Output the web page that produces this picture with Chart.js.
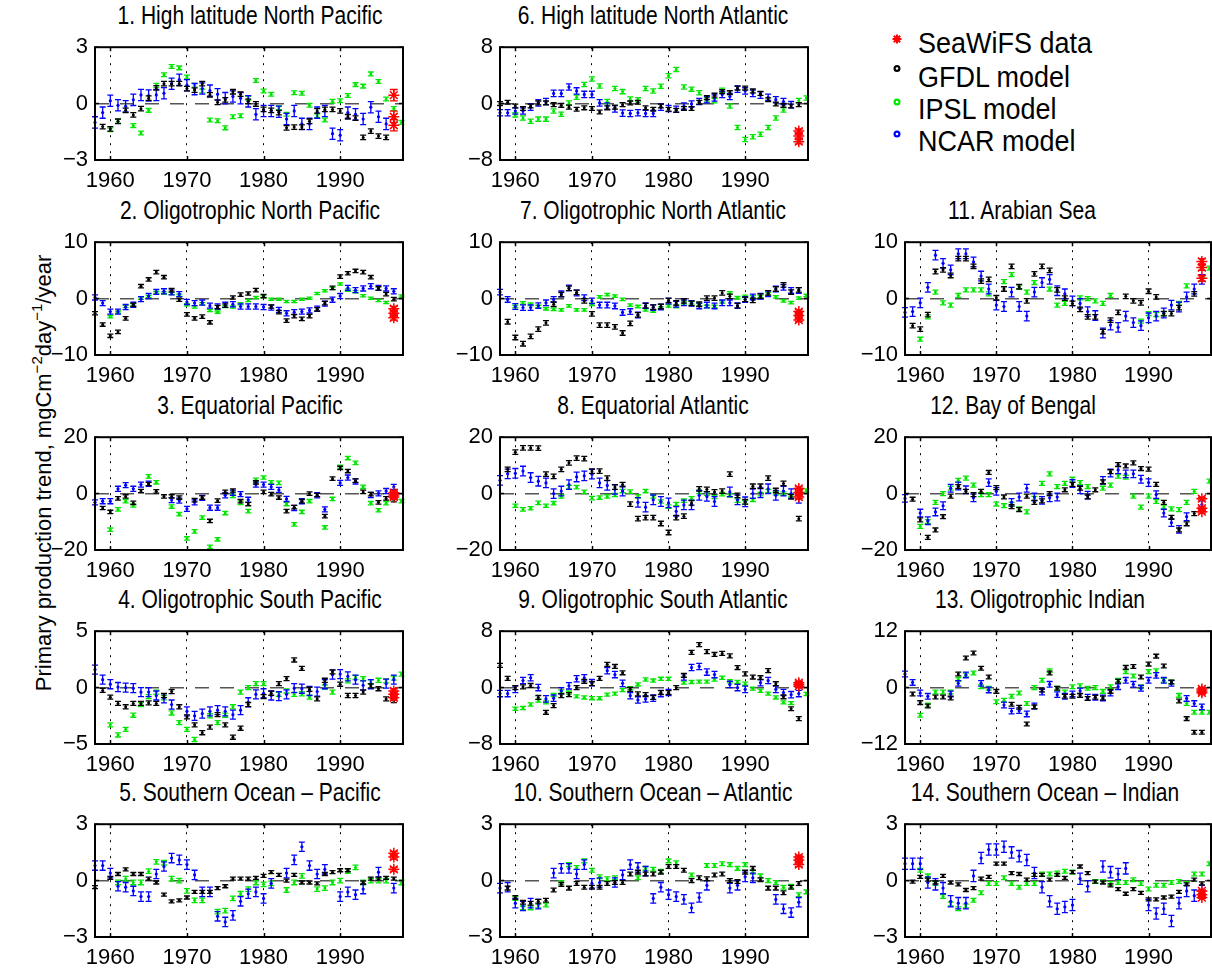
<!DOCTYPE html>
<html><head><meta charset="utf-8">
<script src="https://cdn.jsdelivr.net/npm/chart.js@4.4.1/dist/chart.umd.min.js"></script>
<style>
html,body{margin:0;padding:0;background:#fff;}
body{width:1212px;height:970px;overflow:hidden;position:relative;font-family:"Liberation Sans",Arial,sans-serif;}
canvas{position:absolute;}
#ov{position:absolute;left:0;top:0;pointer-events:none;}
</style></head>
<body>
<svg id="ov" width="1212" height="970" xmlns="http://www.w3.org/2000/svg" font-family="Liberation Sans, Arial, sans-serif" fill="#000"></svg>
<script>
// ---------- DATA ----------
const years = [1958,1959,1960,1961,1962,1963,1964,1965,1966,1967,
               1968,1969,1970,1971,1972,1973,1974,1975,1976,1977,
               1978,1979,1980,1981,1982,1983,1984,1985,1986,1987,
               1988,1989,1990,1991,1992,1993,1994,1995,1996,1997,1998];
const xTicks = [1960,1970,1980,1990];
const seaYear = 1997;
const titles = ["1. High latitude North Pacific","2. Oligotrophic North Pacific","3. Equatorial Pacific",
  "4. Oligotrophic South Pacific","5. Southern Ocean \u2013 Pacific","6. High latitude North Atlantic",
  "7. Oligotrophic North Atlantic","8. Equatorial Atlantic","9. Oligotrophic South Atlantic",
  "10. Southern Ocean \u2013 Atlantic","11. Arabian Sea","12. Bay of Bengal","13. Oligotrophic Indian",
  "14. Southern Ocean \u2013 Indian"];
const yLimits = [3,10,20,5,3,8,10,20,8,3,10,20,12,3];
const legendLabels = ["SeaWiFS data","GFDL model","IPSL model","NCAR model"];

const gfdl1=[null,-1.22,-1.34,-0.94,-0.36,-0.6,-0.27,0.29,0.84,1.06,1.06,1.06,0.8,0.72,1.06,0.46,0.07,0.2,0.63,0.5,0.12,-0.02,-0.31,-0.36,-0.48,-1.29,-1.25,-1.25,-0.94,-0.39,-0.31,-0.31,-0.39,-0.7,-0.77,-1.8,-1.46,-1.73,-1.8,null,null];
const ipsl1=[null,null,-1.39,-0.94,null,-1.17,-1.56,-0.36,0.98,1.53,1.97,1.9,1.41,0.98,0.67,-0.87,-0.91,-1.29,-0.7,-0.65,0.29,1.23,0.67,0.5,-0.22,-0.57,0.58,0.55,-0.09,-0.65,-0.87,0.12,0.15,0.43,1.01,0.93,1.58,1.18,0.24,-0.26,-1.0];
const ncar1=[-1.0,-0.48,0.15,-0.09,-0.14,0.2,0.46,0.43,0.46,0.55,1.06,1.27,0.98,0.77,0.8,0.69,0.5,0.29,0.38,0.29,0.12,-0.57,-0.39,-0.39,-0.43,-0.82,-0.39,-1.08,-1.08,-0.48,-0.39,-1.6,-1.68,-0.48,-0.57,-0.82,-0.19,-0.7,-1.08,null,null];
const sea1=[0.45,-0.7,-1.15];

const gfdl2=[-2.6,-4.6,-6.6,-5.9,-3.5,-1.1,2.2,3.4,4.7,3.8,1.5,-0.2,-2.8,-3.5,-3.2,-4.2,-1.5,-1.25,0.2,0.7,0.9,1.5,0.45,-1.4,-2.4,-3.9,-3.1,-3.6,-3.1,-1.9,-0.8,1.9,3.9,4.5,4.9,4.7,3.8,1.8,0.8,-0.1,null];
const ipsl2=[null,null,-3.2,-2.4,-1.4,-1.1,0.05,0.35,1.1,1.0,0.9,0.6,-1.1,-1.5,-0.9,-2.1,-2.4,-1.4,-1.5,-0.9,-0.35,0.2,0.35,-0.1,-0.1,-0.5,-0.5,-0.1,0.05,0.9,1.4,1.8,2.6,1.5,1.2,0.5,0.05,-0.35,-0.7,null,0.45];
const ncar2=[0.2,-0.8,-2.3,-2.3,-1.5,-1.1,-0.1,0.45,1.2,1.3,1.1,0.8,-0.6,-0.8,-0.7,-1.25,-1.4,-1.1,-1.0,-1.4,-1.4,-1.4,-1.5,-1.6,-2.0,-2.6,-2.4,-2.3,-2.1,-1.8,-0.9,-0.2,0.45,1.9,1.5,1.8,2.2,1.9,1.8,1.3,null];
const sea2=[-1.8,-2.6,-3.4];

const gfdl3=[null,-5.1,-6.5,-1.7,-1.0,-3.3,0.9,3.4,0.8,-1.0,-1.0,-1.4,null,-2.3,-1.4,-9.7,-2.5,0.6,1.1,-2.7,-3.7,4.0,0.6,-0.2,-1.4,-6.2,-4.8,-2.7,0,-0.5,-8.0,5.3,9.1,8.0,4.6,0.6,-0.2,-3.1,-1.7,-2.3,null];
const ipsl3=[null,null,-12.8,-5.6,-2.7,-4.2,null,6.1,4.0,null,-4.6,-7.3,-15.9,-13.4,-8.5,-18.9,-16.2,-6.9,-0.8,-3.3,-6.2,4.9,5.7,4.0,3.8,-3.7,-10.9,-6.5,-2.7,null,-12.0,-1.9,9.5,12.6,10.9,2.4,-3.4,-5.9,-3.4,null,-2.7];
const ncar3=[-3.1,-2.7,-2.7,1.7,3.0,1.7,3.2,3.5,null,null,-2.3,-2.5,-5.4,-3.1,-1.5,-5.0,-5.0,-0.6,0.3,-0.2,-2.2,3.2,3.2,2.4,1.3,-1.9,-5.1,-2.7,null,-0.6,-5.6,null,3.8,5.7,4.3,null,-0.5,0.1,0.9,2.4,null];
const sea3=[0.3,-0.5,-1.2];

const gfdl4=[null,-0.25,-0.85,-1.4,-1.7,-1.4,-1.4,-1.35,-1.4,-0.7,-0.35,-1.7,-2.6,-3.3,-4.0,-3.5,-2.4,-3.3,-4.4,-3.6,-1.5,null,-0.8,-0.5,0.35,0.8,2.45,1.7,-0.15,-1.0,0.65,1.4,0.3,-0.7,-0.7,-0.4,0.15,-0.1,-1.0,-1.15,null];
const ipsl4=[null,null,-3.3,-4.2,-3.7,-2.45,-1.5,-0.8,-0.4,-0.9,-2.25,-3.1,-3.7,-4.6,null,-2.5,-3.1,-2.45,-1.7,-0.4,0,0.35,0.35,null,-0.6,-0.3,-0.6,-0.55,-0.85,null,0.05,-0.4,null,0.6,0.9,0.8,0.5,0.65,0.6,0.85,1.2];
const ncar4=[1.6,0.7,0.3,0.05,0,-0.05,-0.4,-0.4,-0.7,-0.95,-1.5,null,-2.1,-2.5,-2.3,-2.1,-2.0,-2.1,-2.4,-2.0,-1.3,-0.6,-0.5,-0.7,-0.75,-0.6,-0.05,-0.1,-0.3,-0.35,0.3,1.15,1.2,1.0,0.7,0.2,0.3,null,0.35,0.7,null];
const sea4=[-0.3,-0.6,-0.9];

const gfdl5=[-0.35,null,0.15,0.35,0.6,0.35,0.35,0.1,-0.1,-0.75,-1.1,-1.05,-0.9,-0.6,-0.6,-0.6,-0.4,-0.3,0.1,0.1,0.1,0.15,0.25,0.45,0.3,0,0.3,-0.1,-0.1,-0.15,0.35,0.45,0.55,0.55,null,-0.1,0.1,0.1,0.15,0.1,null];
const ipsl5=[null,null,null,-0.1,0.1,-0.1,-0.1,0.5,1.0,0.95,0.1,0,-0.55,-1.05,-1.05,null,-1.65,-1.6,-0.95,-0.7,-0.45,-0.1,-0.2,-0.15,null,-0.5,-0.1,0.25,null,-0.45,-0.4,-0.1,0,0.5,0.7,-0.1,0,0,0,null,-0.1];
const ncar5=[0.8,0.8,0.4,-0.3,-0.35,-0.55,-0.85,-0.85,0.35,0.75,1.2,1.1,0.85,0.3,-0.6,-0.6,-1.9,-2.2,-1.85,-1.1,-0.7,-0.6,-0.95,-0.15,null,0.4,1.1,1.8,0.8,0.35,0.6,null,-0.85,-0.6,-0.75,-0.45,null,0.45,null,-0.4,null];
const sea5=[1.45,1.25,0.6];

const gfdl6=[0,0.2,-0.35,-0.7,-0.35,0.1,0.1,-0.15,-0.25,-0.5,-0.8,-0.6,-0.7,-1.2,-0.6,-0.5,-0.15,0.1,0.2,-0.6,-0.8,-0.35,-0.8,-0.95,-0.7,-0.7,0.2,0.85,1.2,1.7,1.55,2.2,2.2,1.8,1.45,0.55,-0.05,-0.25,-0.35,-0.15,null];
const ipsl6=[null,null,-1.6,-2.05,-2.5,-2.2,-2.2,-1.05,-1.5,0.1,0.9,2.7,3.5,2.5,0.3,2.15,1.7,0.65,0.55,2.15,1.8,2.45,3.95,4.85,2.35,2.05,1.55,0.55,0.4,1.9,-0.35,-3.4,-5.1,-4.7,-4.35,-3.4,-2.05,-0.9,null,0.45,0.8];
const ncar6=[-1.3,-1.3,-1.05,-1.05,-0.5,0.1,0.3,1.45,1.45,2.35,1.8,1.3,1.3,0.1,-0.35,-0.75,-1.35,-1.4,-1.3,-1.4,-1.4,-0.5,-0.7,-0.8,-0.35,-0.05,0.3,0.55,0.8,1.3,1.0,2.05,1.8,1.45,1.2,0.9,0.55,0.3,-0.15,null,null];
const sea6=[-3.9,-4.6,-5.4];

const gfdl7=[null,-4.1,-6.9,-8.0,-6.7,-5.4,-4.3,-1.0,0.7,1.8,1.1,-0.4,-2.7,-4.7,-4.7,-5.0,-6.1,-4.4,-2.9,-1.25,-1.5,-1.4,-0.3,-0.75,-0.4,-0.85,-1.0,0.1,0.1,1.0,0.4,-1.25,-0.15,-0.3,0.45,1.0,1.7,2.45,1.15,1.55,null];
const ipsl7=[null,null,-1.4,-0.75,-1.0,-1.4,-1.8,-1.9,-2.0,-1.3,-2.0,-2.0,-1.0,0.3,0.7,0.45,-0.15,-1.15,-1.4,-2.0,-2.2,-1.7,-1.3,-1.4,-0.75,-0.75,-1.05,-1.4,-1.4,-0.6,1.0,0.15,0.4,0.3,0.4,0.85,0.3,-0.4,-0.7,0.1,0.55];
const ncar7=[1.15,-0.15,-1.4,-1.6,-1.6,-1.25,-0.75,-0.15,0.85,1.9,1.0,0.15,-0.4,-1.15,-1.15,-1.3,-2.45,-2.3,-2.9,-1.25,-1.6,-1.5,-0.45,-1.0,-0.75,-0.85,-1.3,-1.15,-1.3,-0.75,-0.75,-1.25,-0.15,0.3,0.4,0.85,1.7,2.0,1.45,1.45,null];
const sea7=[-2.3,-3.0,-3.8];

const gfdl8=[null,8.6,14.7,16.2,16.2,16.1,6.9,6.1,8.6,10.9,12.6,12.4,8.0,8.0,5.5,2.3,3.2,-3.7,-8.9,-8.5,-8.5,-10.6,-13.8,-8.5,-8.0,-3.3,1.7,1.5,0.6,0.9,6.9,-0.6,-2.9,2.6,2.6,5.5,1.1,3.6,-1.15,-8.9,null];
const ipsl8=[null,null,-4.3,-5.6,-5.2,-3.3,-4.3,-3.4,-1.0,2.3,2.3,0.6,-1.6,-1.4,-1.0,-0.5,0.9,0.7,-1.0,0.9,-1.0,-2.8,-4.6,-3.7,-2.5,-1.7,0.6,0,-1.15,-0.2,-0.6,-2.5,-3.1,-2.2,-0.2,0.9,0.1,0,-0.6,null,1.1];
const ncar8=[4.7,7.0,7.2,8.0,5.7,4.4,3.8,0,0.9,3.2,5.9,6.3,6.9,3.8,2.9,1.5,0.9,null,-3.1,-4.8,-2.2,-2.8,-3.3,-6.3,-4.0,-4.0,-0.6,-1.0,-2.8,null,0.6,-2.2,-2.9,0,0.3,1.7,-0.6,0.9,0,-1.7,null];
const sea8=[1.8,0.3,-1.2];

const gfdl9=[3.15,1.3,0,0.1,0.3,-1.4,-3.5,-2.55,-1.15,-1.0,0,0.9,0.55,1.3,3.3,3.0,2.1,-0.25,-0.9,-1.0,-1.4,-0.7,-0.7,0,1.75,5.0,6.1,5.1,4.7,4.85,4.5,2.85,1.95,1.5,1.4,2.4,0.55,-1.3,-3.0,-4.4,null];
const ipsl9=[null,null,-3.0,-2.9,-2.4,-1.85,-2.1,-1.05,-0.55,-0.7,-1.25,-1.4,-1.5,-1.5,-1.0,-0.85,-0.35,-0.1,0.45,1.15,1.0,1.25,1.25,null,0.7,0.8,0.85,0.85,1.15,1.4,0.9,0.8,0.55,-0.15,-0.45,-0.85,-1.4,-2.1,-2.2,null,-0.9];
const ncar9=[-0.85,-0.85,-0.25,1.0,1.4,0,-1.6,-1.5,-0.45,0.25,1.25,1.4,0.7,null,2.4,1.85,0.6,-1.15,-1.75,-1.6,-1.5,-0.85,-0.7,null,1.5,2.85,3.0,2.2,1.85,null,0.45,0,-0.25,null,0.7,1.0,-0.25,-0.7,-1.0,-0.85,null];
const sea9=[0.7,0.45,0.2];

const gfdl10=[null,-0.4,-0.9,-1.15,-1.2,-1.1,-1.05,-0.5,-0.2,-0.4,-0.15,-0.35,-0.35,-0.35,-0.15,-0.1,-0.1,0.35,0.45,0.35,0.35,0.45,0.75,0.75,0.55,0,0.15,0.1,0.3,0.35,0,-0.05,0.45,0.65,0.05,-0.4,-0.4,-0.65,-0.35,-0.15,null];
const ipsl10=[null,null,-0.95,-1.45,-1.45,-1.35,-1.3,null,-0.1,0.85,0.7,1.05,0.55,0.2,0.1,0.15,null,null,0.15,0.65,0.6,0.5,1.05,0.95,null,0.3,null,0.8,0.8,0.9,0.85,0.65,0.85,0.45,0.25,0,-0.1,-0.35,-0.3,-0.75,-0.6];
const ncar10=[-0.4,-0.35,-1.2,-1.35,-1.2,-1.25,null,0.4,0.65,0.65,0.35,0.85,-0.15,-0.1,null,-0.1,0.3,0.85,0.7,0.5,-0.95,-0.35,-0.75,-0.85,-1.0,-1.45,-0.9,-0.25,null,null,-0.4,-0.25,0.2,0.15,null,null,-1.0,-1.5,-1.7,-1.15,null];
const sea10=[1.25,1.1,0.85];

const gfdl11=[null,-4.8,-5.4,-2.85,4.8,5.1,4.1,7.1,7.1,5.7,3.1,3.4,0.15,1.7,5.7,2.1,-0.4,4.4,5.7,5.0,1.55,0.1,-0.85,-1.9,-3.25,-3.25,-5.85,-3.8,-2.45,0.4,-0.4,-0.75,1.3,0.3,-2.65,-2.65,-1.6,null,0.85,null,null];
const ipsl11=[null,null,-7.2,-3.25,1.15,-0.75,-1.15,0.55,1.55,1.55,1.55,0.85,null,3.0,4.25,2.1,1.15,2.85,null,1.7,-1.15,-0.85,null,0.15,0,-0.4,-0.85,0.55,null,null,null,-4.0,-2.65,-2.85,-2.65,null,-0.85,2.25,null,3.4,5.4];
const ncar11=[-2.45,-2.3,-0.75,2.0,7.7,6.25,5.1,7.95,7.95,6.5,4.0,1.7,-1.15,-1.4,1.15,-1.4,-3.1,1.15,2.85,3.4,1.4,0.85,-0.4,-0.85,-2.3,-3.0,-6.1,-4.7,-5.1,-3.1,-4.25,-4.8,-3.4,-3.1,-2.55,-1.15,-1.5,0.3,1.7,3.4,null];
const sea11=[6.6,5.5,3.6];

const gfdl12=[null,-2.0,-9.3,-15.5,-12.9,-8.2,-0.9,2.5,0.8,-0.35,0.8,7.5,2.1,-1.2,-4.6,-5.7,-0.9,-3.1,-2.6,0,null,1.35,3.25,1.9,-1.2,1.35,4.2,7.75,10.3,9.8,10.9,8.9,8.7,3.25,-3.1,-8.4,-12.9,-10.7,-7.1,null,null];
const ipsl12=[null,null,-11.6,-9.9,-3.1,0,1.9,4.7,5.5,3.0,-0.35,-0.35,-3.7,-4.3,-3.7,-5.4,-6.5,-1.7,3.6,7.0,2.5,3.6,5.1,3.9,2.5,null,1.9,3.0,6.2,5.8,-0.9,-4.8,-0.9,-2.8,-4.8,-5.4,-5.7,-3.1,0.8,null,4.4];
const ncar12=[-1.7,null,-6.9,-9.6,-6.5,-4.3,1.9,2.7,1.35,-1.5,null,3.9,0.8,null,-3.1,-1.2,1.9,-1.2,-2.4,-1.5,-1.2,null,3.6,1.35,-0.55,null,4.7,7.3,8.4,7.0,7.0,5.1,3.9,-0.35,-6.9,-10.3,-12.7,-8.2,null,-3.9,null];
const sea12=[-1.8,-5.2,-6.4];

const gfdl13=[null,-1.35,-3.2,-3.9,-2.0,-2.0,-2.2,2.9,6.3,7.35,4.1,2.25,-0.8,null,-3.55,-4.2,-7.75,-4.1,-0.5,3.1,-0.15,-1.85,-1.85,-1.65,-2.3,-2.05,-2.2,-0.8,1.35,4.3,4.5,2.25,5.0,6.7,4.6,1.2,-2.85,-6.6,-9.5,-9.5,null];
const ipsl13=[null,null,-5.9,-3.7,-0.95,-0.95,-0.95,1.75,2.7,3.1,0.2,-0.15,-3.0,-2.7,-1.85,-1.15,-3.4,0,1.55,3.6,-0.15,-0.95,0.2,0.4,-0.15,0,-0.8,0.2,1.55,3.4,2.45,0.2,3.4,3.6,1.55,1.2,-1.65,-3.4,-5.25,-5.25,-5.25];
const ncar13=[2.9,1.1,-1.15,-1.85,null,null,-1.35,0.9,2.7,null,0.9,-0.5,null,-3.7,-5.0,-4.9,-5.6,-3.9,-0.95,0.7,-1.5,-1.85,-1.35,-0.7,-2.05,-2.05,-2.2,-1.15,0.2,1.55,0.7,-0.15,1.55,2.6,1.55,0.9,null,-2.3,-3.4,-4.1,null];
const sea13=[-0.3,-0.7,-1.1];

const gfdl14=[null,-0.05,0.2,0.05,-0.1,0.25,-0.1,-0.2,-0.5,-0.4,0.1,0.2,0.9,0.9,0.4,0.35,0.05,0.3,0.3,0.05,0.3,0.15,0.45,0.75,0.4,-0.05,-0.1,-0.25,-0.45,-0.7,-0.45,-0.65,-1.0,-1.0,-0.9,-0.85,-0.6,-0.2,0.05,-0.15,null];
const ipsl14=[null,null,0.55,0.25,-0.15,-0.85,-1.25,-1.5,-1.35,-1.05,-0.65,-0.15,-0.15,0.15,-0.15,-0.35,-0.15,-0.15,0.35,0.35,0.4,0.5,0.45,null,null,-0.05,-0.05,-0.15,-0.1,-0.1,0.05,-0.15,-0.45,-0.25,-0.25,-0.1,-0.05,-0.15,0.35,0.35,0.9];
const ncar14=[0.9,0.9,0.9,-0.1,-0.2,-0.4,-1.1,-1.2,-1.2,0.25,1.2,1.65,1.65,1.8,1.5,1.3,1.1,0.4,-0.35,-1.1,-1.5,-1.4,-1.3,0.1,-0.3,null,0.75,0.45,0.35,0.65,null,null,-1.3,-1.75,-1.5,-2.15,-1.2,-0.55,-0.8,-0.55,null];
const sea14=[-0.55,-0.75,-0.9];

// error-bar half heights per panel (data units)
const errGFDL=[0.12,0.3,0.6,0.18,0.08,0.27,0.4,0.8,0.28,0.1,0.4,0.7,0.4,0.08];
const errIPSL=[0.1,0.2,0.6,0.18,0.12,0.3,0.22,0.6,0.22,0.1,0.35,0.7,0.4,0.1];
const errNCAR=[0.3,0.45,0.9,0.4,0.25,0.45,0.5,1.7,0.45,0.25,0.85,1.35,0.6,0.3];
const errSea=[0.3,0.4,0.8,0.2,0.1,0.3,0.3,0.6,0.15,0.1,0.5,0.5,0.2,0.05];

const gfdlAll=[gfdl1,gfdl2,gfdl3,gfdl4,gfdl5,gfdl6,gfdl7,gfdl8,gfdl9,gfdl10,gfdl11,gfdl12,gfdl13,gfdl14];
const ipslAll=[ipsl1,ipsl2,ipsl3,ipsl4,ipsl5,ipsl6,ipsl7,ipsl8,ipsl9,ipsl10,ipsl11,ipsl12,ipsl13,ipsl14];
const ncarAll=[ncar1,ncar2,ncar3,ncar4,ncar5,ncar6,ncar7,ncar8,ncar9,ncar10,ncar11,ncar12,ncar13,ncar14];
const seaAll=[sea1,sea2,sea3,sea4,sea5,sea6,sea7,sea8,sea9,sea10,sea11,sea12,sea13,sea14];

// ---------- LAYOUT / STYLE ----------
const colLeft=[95,500,905], colWidth=[308,308,306];
const rowTop=[43,238,433,627,820], plotH=117;
const panelCol=[0,0,0,0,0,1,1,1,1,1,2,2,2,2];
const panelRow=[0,1,2,3,4,0,1,2,3,4,1,2,3,4];
const titleCx=[250,250,250,250,250,653,653,653,653,653,1022,1013,1040,1045];
const COL={gfdl:'#000000', ipsl:'#00e600', ncar:'#0000ff', sea:'#ff0000'};
const FONT='"Liberation Sans", Arial, sans-serif';
const PADL=75, PADT=16, PADR=6, PADB=38;

const toPts = arr => arr.map((v,i)=> v==null ? null : {x:years[i], y:v}).filter(Boolean);

const errorBars = {
  id:'errorBars',
  beforeDatasetDraw(chart, args){
    const ds = chart.data.datasets[args.index];
    if (ds.err == null) return;
    const ctx = chart.ctx, ys = chart.scales.y;
    const cw = ds.capW || 3;
    ctx.save();
    ctx.strokeStyle = ds.barColor; ctx.lineWidth = 1.3;
    args.meta.data.forEach((pt, j) => {
      const r = ds.data[j];
      const x = pt.x;
      const y1 = ys.getPixelForValue(r.y + ds.err), y2 = ys.getPixelForValue(r.y - ds.err);
      ctx.beginPath();
      ctx.moveTo(x, y1); ctx.lineTo(x, y2);
      ctx.moveTo(x-cw, y1); ctx.lineTo(x+cw, y1);
      ctx.moveTo(x-cw, y2); ctx.lineTo(x+cw, y2);
      ctx.stroke();
    });
    ctx.restore();
  }
};
const frame = {
  id:'frame',
  afterDraw(chart){
    const {ctx, chartArea:a} = chart;
    const xs = chart.scales.x, ys = chart.scales.y;
    ctx.save();
    ctx.strokeStyle = '#000';
    ctx.lineWidth = 1.5;
    ctx.beginPath();
    xs.ticks.forEach(t => { const x = Math.round(xs.getPixelForValue(t.value)) + 0.5;
      ctx.moveTo(x, a.bottom); ctx.lineTo(x, a.bottom - 4); ctx.moveTo(x, a.top); ctx.lineTo(x, a.top + 4); });
    ys.ticks.forEach(t => { const y = ys.getPixelForValue(t.value);
      ctx.moveTo(a.left, y); ctx.lineTo(a.left + 4, y); ctx.moveTo(a.right, y); ctx.lineTo(a.right - 4, y); });
    ctx.stroke();
    ctx.lineWidth = 2;
    ctx.strokeRect(a.left, a.top, a.right - a.left, a.bottom - a.top);
    ctx.restore();
  }
};

function fmtY(v){ return v < 0 ? '\u2212' + Math.abs(v) : String(v); }

for (let i = 0; i < 14; i++){
  const c = panelCol[i], r = panelRow[i];
  const L = colLeft[c], T = rowTop[r], W = colWidth[c], H = plotH, lim = yLimits[i];
  const cv = document.createElement('canvas');
  cv.width = W + PADL + PADR; cv.height = H + PADT + PADB;
  cv.style.left = (L - PADL) + 'px'; cv.style.top = (T - PADT) + 'px';
  document.body.appendChild(cv);
  const mk = (label, arr, err, color, radius) => ({
    label, data: toPts(arr), err, barColor: color, capW: 3,
    pointRadius: radius, pointBackgroundColor: color, pointBorderColor: color, pointBorderWidth: 0,
    borderColor: color, backgroundColor: color, showLine: false, clip: 6
  });
  const datasets = [
    { label: legendLabels[0], data: seaAll[i].map(v => ({x: seaYear, y: v})), err: errSea[i], barColor: COL.sea, capW: 4,
      pointStyle: 'star', pointRadius: 5.5, borderColor: COL.sea, backgroundColor: COL.sea,
      pointBorderColor: COL.sea, pointBorderWidth: 1.5, showLine: false, clip: 8 },
    mk(legendLabels[1], gfdlAll[i], errGFDL[i], COL.gfdl, 1.5),
    mk(legendLabels[3], ncarAll[i], errNCAR[i], COL.ncar, 1.6),
    mk(legendLabels[2], ipslAll[i], errIPSL[i], COL.ipsl, 1.5)
  ];
  new Chart(cv, {
    type: 'scatter',
    data: { datasets },
    options: {
      responsive: false, animation: false, devicePixelRatio: 1,
      layout: { padding: { top: PADT, right: PADR, left: 0, bottom: 0 }, autoPadding: false },
      plugins: { legend: { display: false }, tooltip: { enabled: false }, title: { display: false } },
      events: [],
      scales: {
        x: {
          type: 'linear', min: 1958, max: 1998.2,
          afterBuildTicks: s => { s.ticks = xTicks.map(v => ({ value: v })); },
          afterFit: s => { s.height = PADB; },
          ticks: { padding: 8, color: '#000', autoSkip: false, maxRotation: 0,
                   font: { family: FONT, size: 22 }, callback: v => String(v) },
          grid: { drawTicks: false, color: '#000', lineWidth: 1 },
          border: { display: false, dash: [2, 6] }
        },
        y: {
          type: 'linear', min: -lim, max: lim,
          afterBuildTicks: s => { s.ticks = [-lim, 0, lim].map(v => ({ value: v })); },
          afterFit: s => { s.width = PADL; },
          ticks: { padding: 7, color: '#000', font: { family: FONT, size: 22 }, callback: v => fmtY(v) },
          grid: { drawTicks: false, lineWidth: 1.5,
                  color: ctx => (ctx.tick && ctx.tick.value === 0) ? '#555555' : 'rgba(0,0,0,0)' },
          border: { display: false, dash: [14, 11] }
        }
      }
    },
    plugins: [errorBars, frame]
  });
}

// ---------- TEXT OVERLAY: titles, y label, legend ----------
const NS = 'http://www.w3.org/2000/svg';
const ov = document.getElementById('ov');
function el(tag, attrs, text){ const e = document.createElementNS(NS, tag); for (const k in attrs) e.setAttribute(k, attrs[k]); if (text != null) e.textContent = text; ov.appendChild(e); return e; }
titles.forEach((t, i) => {
  const by = rowTop[panelRow[i]] - 19;
  el('text', { transform: `translate(${titleCx[i]},${by}) scale(1,1.2)`, 'text-anchor': 'middle', 'font-size': 21 }, t);
});
// y axis label
const yl = el('text', { transform: 'translate(51,473) rotate(-90)', 'text-anchor': 'middle', 'font-size': 22 });
const parts = [['Primary production trend, mgCm',0],['\u22122',1],['day',0],['\u22121',1],['/year',0]];
let prevSup = 0;
parts.forEach(([s, sup]) => {
  const ts = document.createElementNS(NS, 'tspan');
  const dy = sup ? -9 : (prevSup ? 9 : 0);
  if (dy) ts.setAttribute('dy', dy);
  if (sup) ts.setAttribute('font-size', 15);
  ts.textContent = s; yl.appendChild(ts); prevSup = sup;
});
// legend
const legY = [53, 86.5, 119, 150.5];
const legMarkY = [39, 68.5, 102, 134];
const legCol = [COL.sea, COL.gfdl, COL.ipsl, COL.ncar];
legendLabels.forEach((lab, k) => {
  el('text', { transform: `translate(918,${legY[k]}) scale(1,1.12)`, 'font-size': 27 }, lab);
  if (k === 0){
    const cx = 897, cy = legMarkY[0], rr = 4.5;
    let d = '';
    for (let a = 0; a < 4; a++){ const ang = a * Math.PI / 4; const dx = rr*Math.cos(ang), dy = rr*Math.sin(ang); d += `M${cx-dx},${cy-dy}L${cx+dx},${cy+dy}`; }
    el('path', { d, stroke: legCol[0], 'stroke-width': 2, fill: 'none' });
  } else {
    el('circle', { cx: 897, cy: legMarkY[k], r: 2.4, stroke: legCol[k], 'stroke-width': 2.2, fill: 'none' });
  }
});
</script>
</body></html>
